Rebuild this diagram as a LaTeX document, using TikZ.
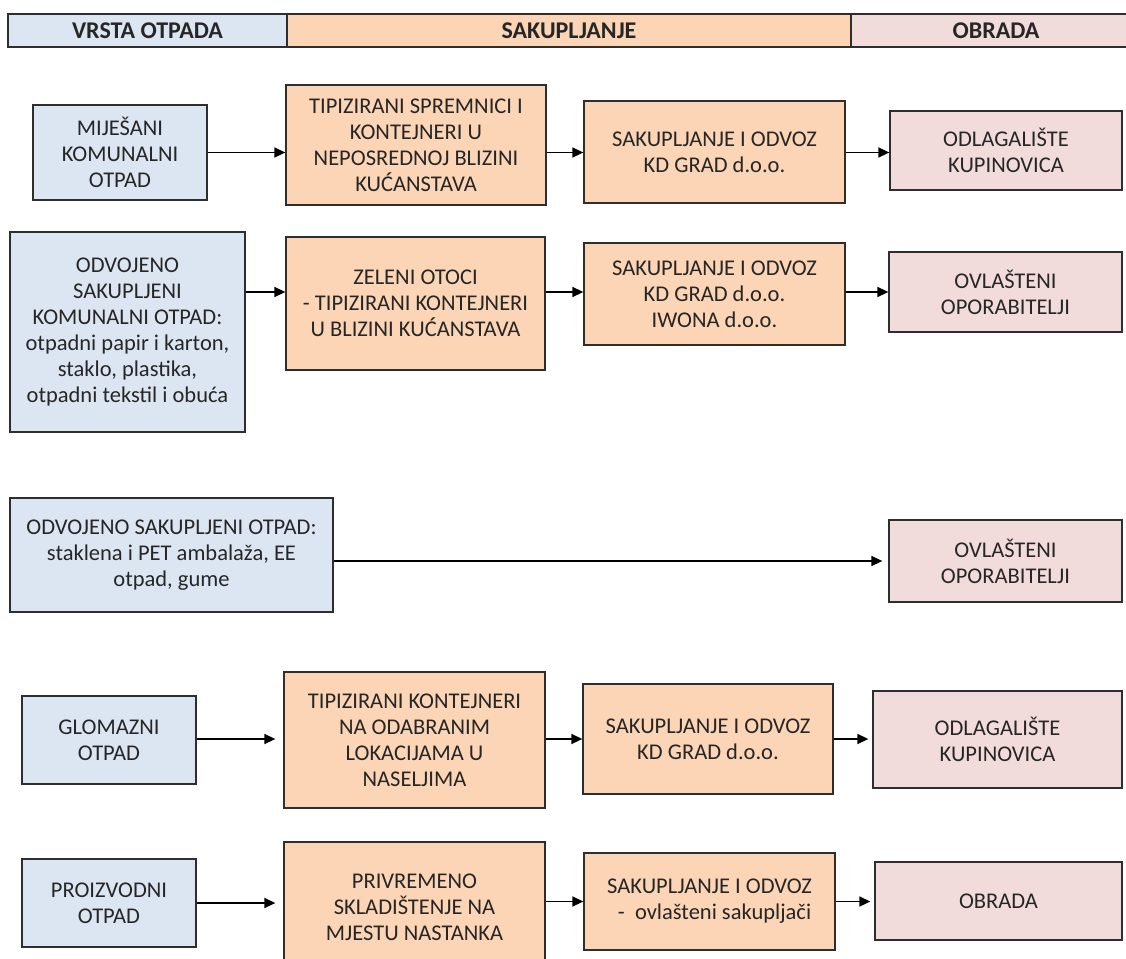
\documentclass[tikz,border=0pt]{standalone}
\usepackage{fontspec}
\setmainfont{Carlito}
\usetikzlibrary{arrows.meta}
\definecolor{bluef}{HTML}{DCE6F2}
\definecolor{orangef}{HTML}{FBD5B5}
\definecolor{pinkf}{HTML}{F2DCDB}
\definecolor{edgec}{HTML}{2E2E2E}
\definecolor{txtc}{HTML}{262626}
\begin{document}
\begin{tikzpicture}[x=1pt,y=-1pt,
  box/.style={draw=edgec,line width=1.3pt,align=center,inner sep=0pt,text=txtc,font=\fontsize{22.5}{26}\selectfont},
  bluebox/.style={box,fill=bluef},
  orangebox/.style={box,fill=orangef},
  pinkbox/.style={box,fill=pinkf},
  head/.style={draw=edgec,line width=1.6pt,inner sep=0pt,text=txtc,font=\fontsize{24}{28}\selectfont\bfseries},
  flow/.style={draw=black,line width=1.5pt,-{Triangle[length=11pt,width=10pt]}}]
\useasboundingbox (0,0) rectangle (1126,958);

% header
\node[head,fill=bluef,minimum width=279,minimum height=33] (h1) at (147.5,30.5) {VRSTA OTPADA};
\node[head,fill=orangef,minimum width=564,minimum height=33] (h2) at (569,30.5) {SAKUPLJANJE};
\node[head,fill=pinkf,minimum width=290,minimum height=33] (h3) at (996,30.5) {OBRADA};

% row 1
\node[bluebox,minimum width=174,minimum height=95] (a1) at (120,152.5) {MIJEŠANI\\KOMUNALNI\\OTPAD};
\node[orangebox,minimum width=260,minimum height=120] (b1) at (416,145) {TIPIZIRANI SPREMNICI I\\KONTEJNERI U\\NEPOSREDNOJ BLIZINI\\KUĆANSTAVA};
\node[orangebox,minimum width=261,minimum height=102] (c1) at (714.5,152) {SAKUPLJANJE I ODVOZ\\KD GRAD d.o.o.};
\node[pinkbox,minimum width=232,minimum height=79] (d1) at (1006,150.5) {ODLAGALIŠTE\\KUPINOVICA};
\draw[flow] (a1.east) -- (a1.east -| b1.west);
\draw[flow] (b1.east |- a1.east) -- (c1.west |- a1.east);
\draw[flow] (c1.east |- a1.east) -- (d1.west |- a1.east);

% row 2
\node[bluebox,minimum width=235,minimum height=200] (a2) at (127.5,332) {ODVOJENO\\SAKUPLJENI\\KOMUNALNI OTPAD:\\otpadni papir i karton,\\staklo, plastika,\\otpadni tekstil i obuća};
\node[orangebox,minimum width=259,minimum height=133] (b2) at (415.5,303.5) {ZELENI OTOCI\\- TIPIZIRANI KONTEJNERI\\U BLIZINI KUĆANSTAVA};
\node[orangebox,minimum width=261,minimum height=102] (c2) at (714.5,294) {SAKUPLJANJE I ODVOZ\\KD GRAD d.o.o.\\IWONA d.o.o.};
\node[pinkbox,minimum width=233,minimum height=80] (d2) at (1005.5,292) {OVLAŠTENI\\OPORABITELJI};
\draw[flow] (a2.east |- d2.west) -- (b2.west |- d2.west);
\draw[flow] (b2.east |- d2.west) -- (c2.west |- d2.west);
\draw[flow] (c2.east |- d2.west) -- (d2.west);

% row 3
\node[bluebox,minimum width=323,minimum height=114] (a3) at (171.5,555) {ODVOJENO SAKUPLJENI OTPAD:\\staklena i PET ambalaža, EE\\otpad, gume};
\node[pinkbox,minimum width=233,minimum height=82] (d3) at (1005.5,561) {OVLAŠTENI\\OPORABITELJI};
\draw[flow,shorten >=6pt] (a3.east |- d3.west) -- (d3.west);

% row 4
\node[bluebox,minimum width=174,minimum height=88] (a4) at (109,740) {GLOMAZNI\\OTPAD};
\node[orangebox,minimum width=261,minimum height=136] (b4) at (414.5,740) {TIPIZIRANI KONTEJNERI\\NA ODABRANIM\\LOKACIJAMA U\\NASELJIMA};
\node[orangebox,minimum width=250,minimum height=110] (c4) at (708,739) {SAKUPLJANJE I ODVOZ\\KD GRAD d.o.o.};
\node[pinkbox,minimum width=249,minimum height=97] (d4) at (997.5,739.5) {ODLAGALIŠTE\\KUPINOVICA};
\draw[flow,shorten >=8pt] (a4.east |- c4.west) -- (b4.west |- c4.west);
\draw[flow] (b4.east |- c4.west) -- (c4.west);
\draw[flow,shorten >=4pt] (c4.east) -- (d4.west |- c4.east);

% row 5
\node[bluebox,minimum width=174,minimum height=88] (a5) at (109,903) {PROIZVODNI\\OTPAD};
\node[orangebox,minimum width=261,minimum height=130] (b5) at (414.5,907) {PRIVREMENO\\SKLADIŠTENJE NA\\MJESTU NASTANKA};
\node[orangebox,minimum width=251,minimum height=97] (c5) at (709.5,901.5) {SAKUPLJANJE I ODVOZ\\\ \ - \ ovlašteni sakupljači};
\node[pinkbox,minimum width=247,minimum height=78] (d5) at (998.5,901) {OBRADA};
\draw[flow,shorten >=8pt] (a5.east) -- (b5.west |- a5.east);
\draw[flow] (b5.east |- c5.west) -- (c5.west);
\draw[flow,shorten >=4pt] (c5.east) -- (d5.west |- c5.east);
\end{tikzpicture}
\end{document}
